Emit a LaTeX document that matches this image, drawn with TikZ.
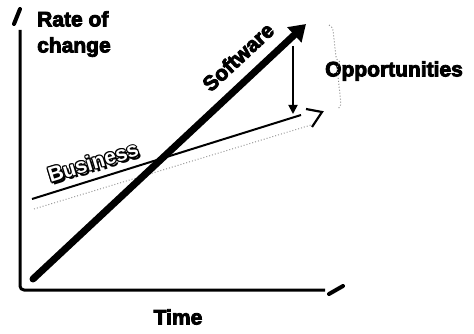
\documentclass[tikz,border=0pt]{standalone}
\usepackage{fontspec}
\setmainfont{Liberation Sans}
\newfontfamily\heavyfont[FakeBold=4]{Liberation Sans Bold}
\newfontfamily\bizfont{Liberation Sans Bold}
\usetikzlibrary{arrows.meta,decorations.pathreplacing}
\tikzset{
  axisline/.style={line width=3pt, line join=round, rounded corners=4pt},
  stub/.style={line width=4pt, line cap=round},
  heavytext/.style={font=\heavyfont\fontsize{21}{26}\selectfont, inner sep=0pt, align=left},
  biztext/.style={font=\bizfont\fontsize{21}{24}\selectfont, inner sep=0pt, rotate=17},
}
\begin{document}
\begin{tikzpicture}[x=1pt,y=-1pt]
\useasboundingbox (0,0) rectangle (474,334);
% axes
\coordinate (ytop) at (20,30);
\coordinate (orig) at (20,290);
\coordinate (xend) at (325,290);
\draw[axisline] (ytop) -- (orig) -- (xend);
\coordinate (ys1) at (14,24);
\coordinate (ys2) at (20,9);
\draw[stub] (ys1) -- (ys2);
\coordinate (xs1) at (329,294);
\coordinate (xs2) at (343,286);
\draw[stub] (xs1) -- (xs2);
% labels
\node[heavytext, anchor=north west] (rate) at (37,11) {Rate of\\change};
\node[heavytext] (time) at (178,317) {Time};
\node[heavytext] (opp) at (394,71) {Opportunities};
% business arrow
\coordinate (b1) at (32,199);
\coordinate (b2) at (301,115);
\coordinate (b3) at (34,209);
\coordinate (b4) at (311,125);
\coordinate (t1) at (306,109);
\coordinate (t2) at (322,112);
\coordinate (t3) at (312,127);
\draw[black!40, dotted, line width=1pt] (b3) -- (b4);
\draw[line width=2pt] (b1) -- (b2);
\draw[line width=2.2pt, line join=miter] (t1) -- (t2) -- (t3);
% software arrow
\coordinate (s1) at (33,279);
\coordinate (s2) at (306,24);
\draw[line width=7pt, line cap=round, -{Triangle[length=16pt,width=20pt]}] (s1) -- (s2);
\node[heavytext, rotate=43] (soft) at (238,57) {Software};
% gap arrow
\coordinate (g1) at (293,46);
\coordinate (g2) at (293,114);
\draw[line width=1.8pt, -{Triangle[length=9pt,width=9pt]}] (g1) -- (g2);
% brace
\coordinate (br1) at (329,25);
\coordinate (br2) at (338,109);
\draw[black!45, dotted, line width=1pt, decorate, decoration={brace, amplitude=7pt, aspect=0.45}] (br1) -- (br2);
% Business outlined text
\node[biztext, text=black] (bizsh) at (95.5,164.5) {Business};
\foreach \i/\dx/\dy in {1/1.2/0, 2/-1.2/0, 3/0/1.2, 4/0/-1.2, 5/0.85/0.85, 6/-0.85/0.85, 7/0.85/-0.85, 8/-0.85/-0.85}
  \node[biztext, text=black] (biz\i) at (93+\dx,162+\dy) {Business};
\node[biztext, text=white] (biz) at (93,162) {Business};
\end{tikzpicture}
\end{document}
